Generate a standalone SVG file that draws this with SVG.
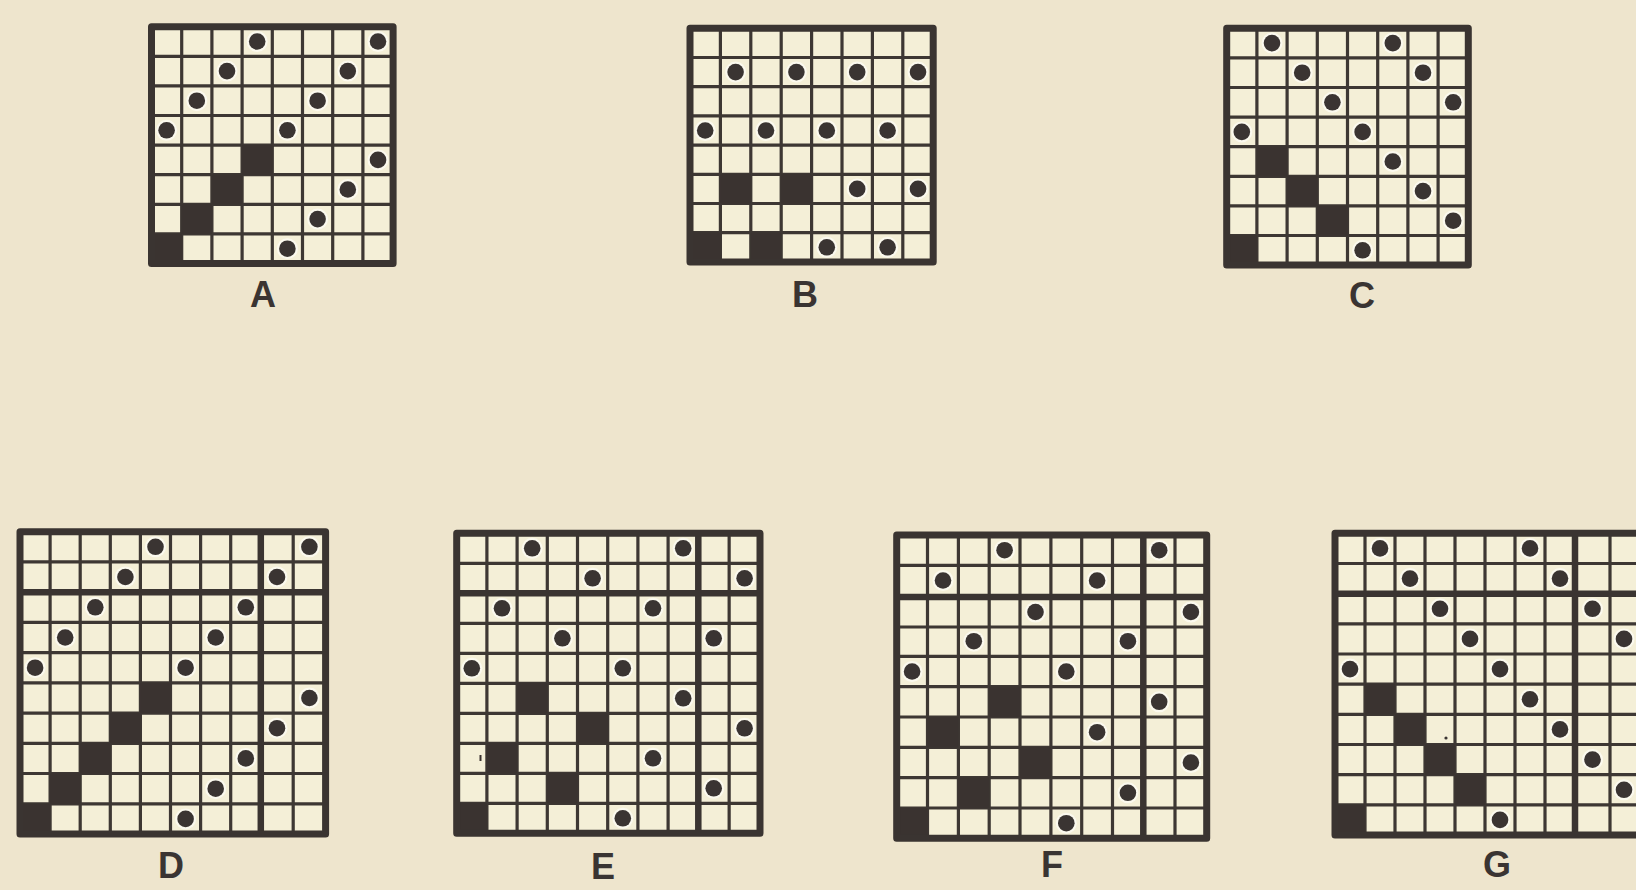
<svg xmlns="http://www.w3.org/2000/svg" xmlns:xlink="http://www.w3.org/1999/xlink" width="1636" height="890" viewBox="0 0 1636 890">
<style>
.bg{fill:#eee5cd}
.cells{fill:#f4efd7}
.thin{fill:none;stroke:#3d3733;stroke-width:3.2}
.thick{fill:none;stroke:#3a3431;stroke-width:6.5}
.border{fill:none;stroke:#3a3431;stroke-width:7;stroke-linejoin:round}
.blk{fill:#3a3330}
.lbl{font-family:"Liberation Sans",Arial,sans-serif;font-weight:bold;font-size:36px;fill:#3a3432;text-anchor:middle}
</style>
<defs>
<g id="dot"><circle r="10.5" fill="#fbf9ee"/><circle r="8.3" fill="#3a3432"/></g>
</defs>
<rect class="bg" x="0" y="0" width="1636" height="890"/>

<g id="grid-A">
<rect class="cells" x="151.5" y="26.7" width="241.6" height="236.8"/>
<g>
<use xlink:href="#dot" href="#dot" x="257.2" y="41.5"/><use href="#dot" x="378" y="41.5"/>
<use href="#dot" x="227" y="71.1"/><use href="#dot" x="347.8" y="71.1"/>
<use href="#dot" x="196.8" y="100.7"/><use href="#dot" x="317.6" y="100.7"/>
<use href="#dot" x="166.6" y="130.3"/><use href="#dot" x="287.4" y="130.3"/>
<use href="#dot" x="378" y="159.9"/><use href="#dot" x="347.8" y="189.5"/>
<use href="#dot" x="317.6" y="219.1"/><use href="#dot" x="287.4" y="248.7"/>
</g>
<path class="thin" d="M181.7 26.7V263.5M211.9 26.7V263.5M242.1 26.7V263.5M272.3 26.7V263.5M302.5 26.7V263.5M332.7 26.7V263.5M362.9 26.7V263.5M151.5 56.3H393.1M151.5 85.9H393.1M151.5 115.5H393.1M151.5 145.1H393.1M151.5 174.7H393.1M151.5 204.3H393.1M151.5 233.9H393.1"/>
<rect class="blk" x="242.1" y="145.1" width="30.2" height="29.6"/>
<rect class="blk" x="211.9" y="174.7" width="30.2" height="29.6"/>
<rect class="blk" x="181.7" y="204.3" width="30.2" height="29.6"/>
<rect class="blk" x="151.5" y="233.9" width="30.2" height="29.6"/>
<rect class="border" x="151.5" y="26.7" width="241.6" height="236.8"/>
<text class="lbl" x="263" y="307">A</text>
</g>

<g id="grid-B">
<rect class="cells" x="690" y="28.3" width="243.2" height="233.6"/>
<g>
<use href="#dot" x="735.6" y="72.1"/><use href="#dot" x="796.4" y="72.1"/><use href="#dot" x="857.2" y="72.1"/><use href="#dot" x="918" y="72.1"/>
<use href="#dot" x="705.2" y="130.5"/><use href="#dot" x="766" y="130.5"/><use href="#dot" x="826.8" y="130.5"/><use href="#dot" x="887.6" y="130.5"/>
<use href="#dot" x="857.2" y="188.9"/><use href="#dot" x="918" y="188.9"/>
<use href="#dot" x="826.8" y="247.3"/><use href="#dot" x="887.6" y="247.3"/>
</g>
<path class="thin" d="M720.4 28.3V261.9M750.8 28.3V261.9M781.2 28.3V261.9M811.6 28.3V261.9M842 28.3V261.9M872.4 28.3V261.9M902.8 28.3V261.9M690 57.5H933.2M690 86.7H933.2M690 115.9H933.2M690 145.1H933.2M690 174.3H933.2M690 203.5H933.2M690 232.7H933.2"/>
<rect class="blk" x="720.4" y="174.3" width="30.4" height="29.2"/>
<rect class="blk" x="781.2" y="174.3" width="30.4" height="29.2"/>
<rect class="blk" x="690" y="232.7" width="30.4" height="29.2"/>
<rect class="blk" x="750.8" y="232.7" width="30.4" height="29.2"/>
<rect class="border" x="690" y="28.3" width="243.2" height="233.6"/>
<text class="lbl" x="805" y="307">B</text>
</g>

<g id="grid-C">
<rect class="cells" x="1226.7" y="28.3" width="241.6" height="236.8"/>
<g>
<use href="#dot" x="1272" y="43.1"/><use href="#dot" x="1392.8" y="43.1"/>
<use href="#dot" x="1302.2" y="72.7"/><use href="#dot" x="1423" y="72.7"/>
<use href="#dot" x="1332.4" y="102.3"/><use href="#dot" x="1453.2" y="102.3"/>
<use href="#dot" x="1241.8" y="131.9"/><use href="#dot" x="1362.6" y="131.9"/>
<use href="#dot" x="1392.8" y="161.5"/><use href="#dot" x="1423" y="191.1"/>
<use href="#dot" x="1453.2" y="220.7"/><use href="#dot" x="1362.6" y="250.3"/>
</g>
<path class="thin" d="M1256.9 28.3V265.1M1287.1 28.3V265.1M1317.3 28.3V265.1M1347.5 28.3V265.1M1377.7 28.3V265.1M1407.9 28.3V265.1M1438.1 28.3V265.1M1226.7 57.9H1468.3M1226.7 87.5H1468.3M1226.7 117.1H1468.3M1226.7 146.7H1468.3M1226.7 176.3H1468.3M1226.7 205.9H1468.3M1226.7 235.5H1468.3"/>
<rect class="blk" x="1256.9" y="146.7" width="30.2" height="29.6"/>
<rect class="blk" x="1287.1" y="176.3" width="30.2" height="29.6"/>
<rect class="blk" x="1317.3" y="205.9" width="30.2" height="29.6"/>
<rect class="blk" x="1226.7" y="235.5" width="30.2" height="29.6"/>
<rect class="border" x="1226.7" y="28.3" width="241.6" height="236.8"/>
<text class="lbl" x="1362" y="308">C</text>
</g>

<g id="grid-D">
<rect class="cells" x="20" y="531.7" width="305.6" height="302.3"/>
<g>
<use href="#dot" x="155.5" y="546.8"/><use href="#dot" x="309.4" y="546.8"/>
<use href="#dot" x="125.4" y="577"/><use href="#dot" x="277" y="577"/>
<use href="#dot" x="95.3" y="607.3"/><use href="#dot" x="245.8" y="607.3"/>
<use href="#dot" x="65.2" y="637.5"/><use href="#dot" x="215.7" y="637.5"/>
<use href="#dot" x="35.1" y="667.7"/><use href="#dot" x="185.6" y="667.7"/>
<use href="#dot" x="309.4" y="698"/><use href="#dot" x="277" y="728.2"/>
<use href="#dot" x="245.8" y="758.4"/><use href="#dot" x="215.7" y="788.7"/>
<use href="#dot" x="185.6" y="818.9"/>
</g>
<path class="thin" d="M50.1 531.7V834M80.2 531.7V834M110.3 531.7V834M140.4 531.7V834M170.5 531.7V834M200.6 531.7V834M230.7 531.7V834M293.2 531.7V834M20 561.9H325.6M20 622.4H325.6M20 652.6H325.6M20 682.9H325.6M20 713.1H325.6M20 743.3H325.6M20 773.5H325.6M20 803.8H325.6"/>
<path class="thick" d="M260.8 531.7V834M20 592.2H325.6"/>
<rect class="blk" x="140.4" y="682.9" width="30.1" height="30.2"/>
<rect class="blk" x="110.3" y="713.1" width="30.1" height="30.2"/>
<rect class="blk" x="80.2" y="743.3" width="30.1" height="30.2"/>
<rect class="blk" x="50.1" y="773.5" width="30.1" height="30.3"/>
<rect class="blk" x="20" y="803.8" width="30.1" height="30.2"/>
<rect class="border" x="20" y="531.7" width="305.6" height="302.3"/>
<text class="lbl" x="171" y="878">D</text>
</g>

<g id="grid-E">
<rect class="cells" x="456.7" y="533.3" width="303.3" height="300"/>
<g>
<use href="#dot" x="532.2" y="548.3"/><use href="#dot" x="683.2" y="548.3"/>
<use href="#dot" x="592.6" y="578.3"/><use href="#dot" x="744.6" y="578.3"/>
<use href="#dot" x="502" y="608.3"/><use href="#dot" x="653" y="608.3"/>
<use href="#dot" x="562.4" y="638.3"/><use href="#dot" x="713.7" y="638.3"/>
<use href="#dot" x="471.8" y="668.3"/><use href="#dot" x="622.8" y="668.3"/>
<use href="#dot" x="683.2" y="698.3"/><use href="#dot" x="744.6" y="728.3"/>
<use href="#dot" x="653" y="758.3"/><use href="#dot" x="713.7" y="788.3"/>
<use href="#dot" x="622.8" y="818.3"/>
</g>
<path class="thin" d="M486.9 533.3V833.3M517.1 533.3V833.3M547.3 533.3V833.3M577.5 533.3V833.3M607.7 533.3V833.3M637.9 533.3V833.3M668.1 533.3V833.3M729.15 533.3V833.3M456.7 563.3H760M456.7 623.3H760M456.7 653.3H760M456.7 683.3H760M456.7 713.3H760M456.7 743.3H760M456.7 773.3H760M456.7 803.3H760"/>
<path class="thick" d="M698.3 533.3V833.3M456.7 593.3H760"/>
<rect class="blk" x="517.1" y="683.3" width="30.2" height="30"/>
<rect class="blk" x="577.5" y="713.3" width="30.2" height="30"/>
<rect class="blk" x="486.9" y="743.3" width="30.2" height="30"/>
<rect class="blk" x="547.3" y="773.3" width="30.2" height="30"/>
<rect class="blk" x="456.7" y="803.3" width="30.2" height="30"/>
<rect class="blk" x="479.5" y="755" width="2" height="6"/>
<rect class="border" x="456.7" y="533.3" width="303.3" height="300"/>
<text class="lbl" x="603" y="879">E</text>
</g>

<g id="grid-F">
<rect class="cells" x="896.7" y="535" width="310" height="303.3"/>
<g>
<use href="#dot" x="1004.6" y="550.2"/><use href="#dot" x="1159.2" y="550.2"/>
<use href="#dot" x="943" y="580.5"/><use href="#dot" x="1097.1" y="580.5"/>
<use href="#dot" x="1035.5" y="612"/><use href="#dot" x="1190.9" y="612"/>
<use href="#dot" x="973.8" y="641.2"/><use href="#dot" x="1127.9" y="641.2"/>
<use href="#dot" x="912.1" y="671.5"/><use href="#dot" x="1066.3" y="671.5"/>
<use href="#dot" x="1159.2" y="701.8"/><use href="#dot" x="1097.1" y="732.2"/>
<use href="#dot" x="1190.9" y="762.5"/><use href="#dot" x="1127.9" y="792.8"/>
<use href="#dot" x="1066.3" y="823.2"/>
</g>
<path class="thin" d="M927.5 535V838.3M958.4 535V838.3M989.2 535V838.3M1020 535V838.3M1050.9 535V838.3M1081.7 535V838.3M1112.5 535V838.3M1175 535V838.3M896.7 565.3H1206.7M896.7 627H1206.7M896.7 656.3H1206.7M896.7 686.7H1206.7M896.7 717H1206.7M896.7 747.3H1206.7M896.7 777.7H1206.7M896.7 808H1206.7"/>
<path class="thick" d="M1143.3 535V838.3M896.7 597H1206.7"/>
<rect class="blk" x="989.2" y="686.7" width="30.8" height="30.3"/>
<rect class="blk" x="927.5" y="717" width="30.9" height="30.3"/>
<rect class="blk" x="1020" y="747.3" width="30.9" height="30.4"/>
<rect class="blk" x="958.4" y="777.7" width="30.8" height="30.3"/>
<rect class="blk" x="896.7" y="808" width="30.8" height="30.3"/>
<rect class="border" x="896.7" y="535" width="310" height="303.3"/>
<text class="lbl" x="1052" y="877">F</text>
</g>

<g id="grid-G">
<rect class="cells" x="1335" y="533.3" width="310" height="301.7"/>
<g>
<use href="#dot" x="1380" y="548.4"/><use href="#dot" x="1530" y="548.4"/>
<use href="#dot" x="1410" y="578.6"/><use href="#dot" x="1560" y="578.6"/>
<use href="#dot" x="1440" y="608.8"/><use href="#dot" x="1592.5" y="608.8"/>
<use href="#dot" x="1470" y="638.9"/><use href="#dot" x="1624" y="638.9"/>
<use href="#dot" x="1350" y="669.1"/><use href="#dot" x="1500" y="669.1"/>
<use href="#dot" x="1530" y="699.3"/><use href="#dot" x="1560" y="729.4"/>
<use href="#dot" x="1592.5" y="759.6"/><use href="#dot" x="1624" y="789.8"/>
<use href="#dot" x="1500" y="819.9"/>
</g>
<path class="thin" d="M1365 533.3V835M1395 533.3V835M1425 533.3V835M1455 533.3V835M1485 533.3V835M1515 533.3V835M1545 533.3V835M1610 533.3V835M1335 563.5H1645M1335 623.8H1645M1335 654H1645M1335 684.2H1645M1335 714.3H1645M1335 744.5H1645M1335 774.7H1645M1335 804.8H1645"/>
<path class="thick" d="M1575 533.3V835M1335 593.7H1645"/>
<rect class="blk" x="1365" y="684.2" width="30" height="30.1"/>
<rect class="blk" x="1395" y="714.3" width="30" height="30.2"/>
<rect class="blk" x="1425" y="744.5" width="30" height="30.2"/>
<rect class="blk" x="1455" y="774.7" width="30" height="30.1"/>
<rect class="blk" x="1335" y="804.8" width="30" height="30.2"/>
<circle cx="1446" cy="738" r="1.6" fill="#3a3432"/>
<rect class="border" x="1335" y="533.3" width="310" height="301.7"/>
<text class="lbl" x="1497" y="877">G</text>
</g>
</svg>
